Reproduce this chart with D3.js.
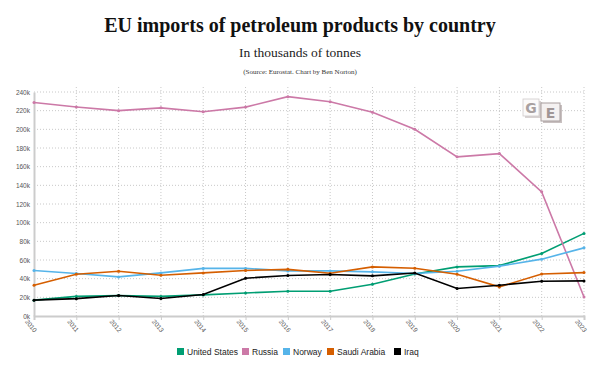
<!DOCTYPE html>
<html>
<head>
<meta charset="utf-8">
<script src="https://cdn.jsdelivr.net/npm/d3@7"></script>
<style>
  body { margin: 0; background: #fff; }
  svg { display: block; }
</style>
</head>
<body>
<script>
const width = 600, height = 368;

// Data (thousands of tonnes)
const years = [2010, 2011, 2012, 2013, 2014, 2015, 2016, 2017, 2018, 2019, 2020, 2021, 2022, 2023];
const unitedStates = [17, 21, 22, 21, 22.6, 24.7, 26.5, 26.5, 34, 45, 52.6, 54, 67, 88.5];
const russia = [228.8, 224, 220, 223, 218.8, 223.8, 235, 229.5, 218.4, 200, 170.5, 174, 133, 20.4];
const norway = [48.8, 45.5, 41.9, 46.2, 51, 51, 48.3, 48.3, 47.3, 45.5, 48, 53.4, 60.9, 73];
const saudiArabia = [33, 44.8, 48, 43.7, 46.2, 48.7, 50, 45.8, 52.6, 51.2, 44.8, 31.2, 45, 46.5];
const iraq = [17, 18.6, 22, 18.7, 23, 40.5, 43.4, 44.4, 43, 46, 29.4, 33, 37.3, 37.6];
const yTicks = [0, 20, 40, 60, 80, 100, 120, 140, 160, 180, 200, 220, 240];

const series = [
    { name: "United States", values: unitedStates, color: "#009E73" },
    { name: "Russia", values: russia, color: "#CC79A7" },
    { name: "Norway", values: norway, color: "#56B4E9" },
    { name: "Saudi Arabia", values: saudiArabia, color: "#D55E00" },
    { name: "Iraq", values: iraq, color: "#000000" }
];

const margin = { top: 92, right: 16, bottom: 52, left: 34 };

const svg = d3.select("body").append("svg")
    .attr("width", width)
    .attr("height", height);

const x = d3.scaleLinear()
    .domain([2010, 2023])
    .range([margin.left, width - margin.right]);

const y = d3.scaleLinear()
    .domain([0, 240])
    .range([height - margin.bottom, margin.top]);

// Titles
svg.append("text")
    .attr("x", 300).attr("y", 32)
    .attr("text-anchor", "middle")
    .attr("font-family", "'Liberation Serif', Georgia, serif")
    .attr("font-weight", "bold")
    .attr("font-size", "20px")
    .attr("fill", "#111")
    .text("EU imports of petroleum products by country");

svg.append("text")
    .attr("x", 300).attr("y", 57)
    .attr("text-anchor", "middle")
    .attr("font-family", "'Liberation Serif', Georgia, serif")
    .attr("font-size", "13.5px")
    .attr("fill", "#222")
    .text("In thousands of tonnes");

svg.append("text")
    .attr("x", 300).attr("y", 74)
    .attr("text-anchor", "middle")
    .attr("font-family", "'Liberation Serif', serif")
    .attr("font-size", "7px")
    .attr("fill", "#333")
    .text("(Source: Eurostat. Chart by Ben Norton)");

// Gridlines
svg.append("g")
    .selectAll("line")
    .data(yTicks.slice(1))
    .join("line")
    .attr("x1", margin.left).attr("x2", width - margin.right)
    .attr("y1", d => y(d)).attr("y2", d => y(d))
    .attr("stroke", "#c8c8c8")
    .attr("stroke-dasharray", "1,2");

svg.append("g")
    .selectAll("line")
    .data(years.slice(1))
    .join("line")
    .attr("x1", d => x(d)).attr("x2", d => x(d))
    .attr("y1", y(0)).attr("y2", y(240) - 6)
    .attr("stroke", "#c8c8c8")
    .attr("stroke-dasharray", "1,2");

// Axes
const yAxis = svg.append("g")
    .attr("transform", `translate(${margin.left},0)`)
    .call(d3.axisLeft(y).tickValues(yTicks).tickSize(0).tickPadding(4).tickFormat(d => d + "k"));
yAxis.select(".domain").attr("stroke", "#ccc").attr("stroke-width", 2);
yAxis.selectAll("text")
    .attr("font-family", "'Liberation Sans', Arial, sans-serif")
    .attr("font-size", "6.5px")
    .attr("fill", "#555");

const xAxis = svg.append("g")
    .attr("transform", `translate(0,${y(0)})`)
    .call(d3.axisBottom(x).tickValues(years).tickSize(4).tickFormat(d3.format("d")));
xAxis.select(".domain").attr("stroke", "#ccc").attr("stroke-width", 2);
xAxis.selectAll("line").attr("stroke", "#ccc");
xAxis.selectAll("text")
    .attr("font-family", "'Liberation Sans', Arial, sans-serif")
    .attr("font-size", "6.5px")
    .attr("fill", "#555")
    .attr("text-anchor", "start")
    .attr("transform", "translate(-3,0) rotate(50)")
    .attr("dy", "0.3em");

// Lines
const line = d3.line()
    .x((d, i) => x(years[i]))
    .y(d => y(d));

series.forEach(s => {
    svg.append("path")
        .datum(s.values)
        .attr("fill", "none")
        .attr("stroke", s.color)
        .attr("stroke-width", 1.6)
        .attr("d", line);

    svg.append("g")
        .selectAll("circle")
        .data(s.values)
        .join("circle")
        .attr("cx", (d, i) => x(years[i]))
        .attr("cy", d => y(d))
        .attr("r", 1.5)
        .attr("fill", s.color);
});

// GE logo: two tiles
const logo = svg.append("g");
logo.append("rect").attr("x", 525).attr("y", 101).attr("width", 16).attr("height", 17)
    .attr("fill", "#d8d2d2");
logo.append("rect").attr("x", 523).attr("y", 99).attr("width", 16).attr("height", 17)
    .attr("fill", "#fbfafa").attr("stroke", "#d0caca").attr("stroke-width", 0.8);
logo.append("text").attr("x", 531).attr("y", 113).attr("text-anchor", "middle")
    .attr("font-family", "'DejaVu Sans', sans-serif").attr("font-weight", "bold")
    .attr("font-size", "14px").attr("fill", "#a8a0a0")
    .text("G");
logo.append("rect").attr("x", 543).attr("y", 105).attr("width", 19).attr("height", 18)
    .attr("fill", "#c8c0c0");
logo.append("rect").attr("x", 541).attr("y", 103).attr("width", 19).attr("height", 18)
    .attr("fill", "#f4f1f1").attr("stroke", "#a89e9e").attr("stroke-width", 1);
logo.append("text").attr("x", 550.5).attr("y", 118).attr("text-anchor", "middle")
    .attr("font-family", "'DejaVu Sans', sans-serif").attr("font-weight", "bold")
    .attr("font-size", "14px").attr("fill", "#a09696")
    .text("E");

// Legend
const legendX = [177, 242, 283, 327, 394];
const legend = svg.append("g");
series.forEach((s, i) => {
    const g = legend.append("g").attr("transform", `translate(${legendX[i]},348)`);
    g.append("rect").attr("width", 7).attr("height", 7).attr("fill", s.color);
    g.append("text")
        .attr("x", 10).attr("y", 6.5)
        .attr("font-family", "'Liberation Sans', Arial, sans-serif")
        .attr("font-size", "8.5px")
        .attr("fill", "#222")
        .text(s.name);
});
</script>
</body>
</html>
